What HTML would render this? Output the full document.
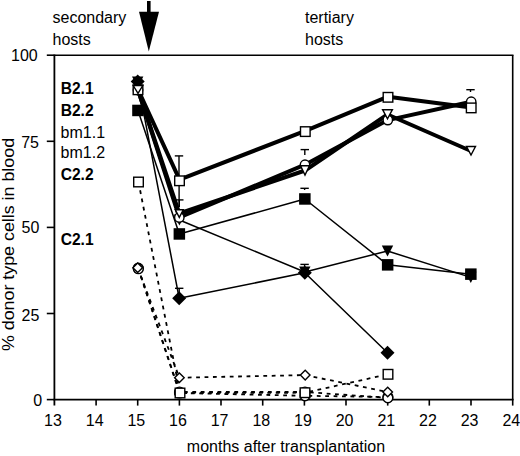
<!DOCTYPE html>
<html><head><meta charset="utf-8"><style>
html,body{margin:0;padding:0;background:#fff;}
body{width:520px;height:456px;overflow:hidden;}
svg{display:block;font-family:"Liberation Sans",sans-serif;}
</style></head><body>
<svg width="520" height="456" viewBox="0 0 520 456">
<rect width="520" height="456" fill="#fff"/>
<line x1="179.0" y1="155.9" x2="179.0" y2="175.0" stroke="#000" stroke-width="1.4"/><line x1="174.8" y1="155.9" x2="183.2" y2="155.9" stroke="#000" stroke-width="1.4"/>
<line x1="179.3" y1="199.9" x2="179.3" y2="207.0" stroke="#000" stroke-width="1.4"/><line x1="175.1" y1="199.9" x2="183.5" y2="199.9" stroke="#000" stroke-width="1.4"/>
<line x1="179.1" y1="185" x2="179.1" y2="207" stroke="#000" stroke-width="1.4"/>
<line x1="179.2" y1="288.3" x2="179.2" y2="292.0" stroke="#000" stroke-width="1.4"/><line x1="175.0" y1="288.3" x2="183.4" y2="288.3" stroke="#000" stroke-width="1.4"/>
<line x1="304.8" y1="149.6" x2="304.8" y2="155.0" stroke="#000" stroke-width="1.4"/><line x1="300.6" y1="149.6" x2="309.0" y2="149.6" stroke="#000" stroke-width="1.4"/>
<line x1="304.6" y1="188.3" x2="304.6" y2="190.0" stroke="#000" stroke-width="1.4"/><line x1="300.4" y1="188.3" x2="308.8" y2="188.3" stroke="#000" stroke-width="1.4"/>
<line x1="304.6" y1="264.4" x2="304.6" y2="268.0" stroke="#000" stroke-width="1.4"/><line x1="300.4" y1="264.4" x2="308.8" y2="264.4" stroke="#000" stroke-width="1.4"/>
<line x1="470.5" y1="89.7" x2="470.5" y2="92.0" stroke="#000" stroke-width="1.4"/><line x1="466.3" y1="89.7" x2="474.7" y2="89.7" stroke="#000" stroke-width="1.4"/>
<polyline points="138.2,268.2 179.5,393.0 305.0,395.8 387.9,397.0" fill="none" stroke="#000" stroke-width="1.8" stroke-linejoin="round" stroke-dasharray="3.8 4.6"/>
<polyline points="138.4,268.7 179.5,392.0 305.0,392.0 387.9,397.9" fill="none" stroke="#000" stroke-width="1.8" stroke-linejoin="round" stroke-dasharray="3.8 4.6"/>
<polyline points="137.7,267.7 179.4,377.7 305.2,375.1 387.7,392.0" fill="none" stroke="#000" stroke-width="1.8" stroke-linejoin="round" stroke-dasharray="3.8 4.6"/>
<polyline points="138.5,182.0 180.0,393.0 305.0,392.7 388.0,374.3" fill="none" stroke="#000" stroke-width="1.8" stroke-linejoin="round" stroke-dasharray="3.8 4.6"/>
<polyline points="137.7,82.0 179.4,220.0 304.8,272.0 387.5,251.0 470.8,277.4" fill="none" stroke="#000" stroke-width="1.5" stroke-linejoin="round"/>
<polyline points="137.7,81.6 179.2,298.3 304.8,272.8 387.5,352.8" fill="none" stroke="#000" stroke-width="1.5" stroke-linejoin="round"/>
<polyline points="138.0,110.4 179.3,234.0 304.8,199.0 387.6,264.8 470.8,274.2" fill="none" stroke="#000" stroke-width="1.5" stroke-linejoin="round"/>
<polyline points="138.0,90.0 179.3,217.5 305.0,164.7 387.8,120.1 471.2,101.7" fill="none" stroke="#000" stroke-width="4.0" stroke-linejoin="round"/>
<polyline points="138.0,89.5 179.5,179.6 305.3,130.9 388.0,96.7 471.2,107.5" fill="none" stroke="#000" stroke-width="4.0" stroke-linejoin="round"/>
<polyline points="138.0,90.0 179.3,213.5 305.0,170.5 387.5,114.5 471.0,151.0" fill="none" stroke="#000" stroke-width="4.0" stroke-linejoin="round"/>
<line x1="54.4" y1="55.3" x2="513.5" y2="55.3" stroke="#000" stroke-width="1.6"/>
<line x1="512.7" y1="55.3" x2="512.7" y2="400" stroke="#000" stroke-width="1.6"/>
<line x1="54.4" y1="54.5" x2="54.4" y2="405.6" stroke="#000" stroke-width="1.8"/>
<line x1="53.5" y1="399.6" x2="513.5" y2="399.6" stroke="#000" stroke-width="1.8"/>
<line x1="46.8" y1="399.6" x2="54.4" y2="399.6" stroke="#000" stroke-width="1.6"/>
<line x1="46.8" y1="313.5" x2="54.4" y2="313.5" stroke="#000" stroke-width="1.6"/>
<line x1="46.8" y1="227.4" x2="54.4" y2="227.4" stroke="#000" stroke-width="1.6"/>
<line x1="46.8" y1="141.3" x2="54.4" y2="141.3" stroke="#000" stroke-width="1.6"/>
<line x1="46.8" y1="55.2" x2="54.4" y2="55.2" stroke="#000" stroke-width="1.6"/>
<line x1="96.1" y1="399.6" x2="96.1" y2="405.6" stroke="#000" stroke-width="1.6"/>
<line x1="137.7" y1="399.6" x2="137.7" y2="405.6" stroke="#000" stroke-width="1.6"/>
<line x1="179.4" y1="399.6" x2="179.4" y2="405.6" stroke="#000" stroke-width="1.6"/>
<line x1="221.0" y1="399.6" x2="221.0" y2="405.6" stroke="#000" stroke-width="1.6"/>
<line x1="262.7" y1="399.6" x2="262.7" y2="405.6" stroke="#000" stroke-width="1.6"/>
<line x1="304.4" y1="399.6" x2="304.4" y2="405.6" stroke="#000" stroke-width="1.6"/>
<line x1="346.0" y1="399.6" x2="346.0" y2="405.6" stroke="#000" stroke-width="1.6"/>
<line x1="387.7" y1="399.6" x2="387.7" y2="405.6" stroke="#000" stroke-width="1.6"/>
<line x1="429.3" y1="399.6" x2="429.3" y2="405.6" stroke="#000" stroke-width="1.6"/>
<line x1="471.0" y1="399.6" x2="471.0" y2="405.6" stroke="#000" stroke-width="1.6"/>
<line x1="512.7" y1="399.6" x2="512.7" y2="405.6" stroke="#000" stroke-width="1.6"/>
<circle cx="138.2" cy="268.2" r="4.9" fill="#fff" stroke="#000" stroke-width="1.4"/>
<circle cx="179.5" cy="393.0" r="4.9" fill="#fff" stroke="#000" stroke-width="1.4"/>
<circle cx="305.0" cy="395.8" r="4.9" fill="#fff" stroke="#000" stroke-width="1.4"/>
<circle cx="387.9" cy="397.0" r="4.9" fill="#fff" stroke="#000" stroke-width="1.4"/>
<circle cx="138.4" cy="268.7" r="4.9" fill="#fff" stroke="#000" stroke-width="1.4"/>
<circle cx="179.5" cy="392.0" r="4.9" fill="#fff" stroke="#000" stroke-width="1.4"/>
<circle cx="305.0" cy="392.0" r="4.9" fill="#fff" stroke="#000" stroke-width="1.4"/>
<circle cx="387.9" cy="397.9" r="4.9" fill="#fff" stroke="#000" stroke-width="1.4"/>
<polygon points="137.7,262.9 142.5,267.7 137.7,272.5 132.9,267.7" fill="#fff" stroke="#000" stroke-width="1.4"/>
<polygon points="179.4,372.9 184.2,377.7 179.4,382.5 174.6,377.7" fill="#fff" stroke="#000" stroke-width="1.4"/>
<polygon points="305.2,370.3 310.0,375.1 305.2,379.9 300.4,375.1" fill="#fff" stroke="#000" stroke-width="1.4"/>
<polygon points="387.7,387.2 392.5,392.0 387.7,396.8 382.9,392.0" fill="#fff" stroke="#000" stroke-width="1.4"/>
<rect x="133.7" y="177.2" width="9.6" height="9.6" fill="#fff" stroke="#000" stroke-width="1.4"/>
<rect x="175.2" y="388.2" width="9.6" height="9.6" fill="#fff" stroke="#000" stroke-width="1.4"/>
<rect x="300.2" y="387.9" width="9.6" height="9.6" fill="#fff" stroke="#000" stroke-width="1.4"/>
<rect x="383.2" y="369.5" width="9.6" height="9.6" fill="#fff" stroke="#000" stroke-width="1.4"/>
<polygon points="132.0,76.4 143.4,76.4 137.7,87.6" fill="#000"/>
<polygon points="173.7,214.4 185.1,214.4 179.4,225.6" fill="#000"/>
<polygon points="299.1,266.4 310.5,266.4 304.8,277.6" fill="#000"/>
<polygon points="381.8,245.4 393.2,245.4 387.5,256.6" fill="#000"/>
<polygon points="465.1,271.8 476.5,271.8 470.8,283.0" fill="#000"/>
<polygon points="137.7,74.6 144.7,81.6 137.7,88.6 130.7,81.6" fill="#000"/>
<polygon points="179.2,291.3 186.2,298.3 179.2,305.3 172.2,298.3" fill="#000"/>
<polygon points="304.8,265.8 311.8,272.8 304.8,279.8 297.8,272.8" fill="#000"/>
<polygon points="387.5,345.8 394.5,352.8 387.5,359.8 380.5,352.8" fill="#000"/>
<rect x="132.2" y="104.7" width="11.5" height="11.5" fill="#000"/>
<rect x="173.6" y="228.2" width="11.5" height="11.5" fill="#000"/>
<rect x="299.1" y="193.2" width="11.5" height="11.5" fill="#000"/>
<rect x="381.9" y="259.1" width="11.5" height="11.5" fill="#000"/>
<rect x="465.1" y="268.4" width="11.5" height="11.5" fill="#000"/>
<circle cx="138.0" cy="90.0" r="4.7" fill="#fff" stroke="#000" stroke-width="1.4"/>
<circle cx="179.3" cy="217.5" r="4.7" fill="#fff" stroke="#000" stroke-width="1.4"/>
<circle cx="305.0" cy="164.7" r="4.7" fill="#fff" stroke="#000" stroke-width="1.4"/>
<circle cx="387.8" cy="120.1" r="4.7" fill="#fff" stroke="#000" stroke-width="1.4"/>
<circle cx="471.2" cy="101.7" r="4.7" fill="#fff" stroke="#000" stroke-width="1.4"/>
<rect x="133.2" y="85.0" width="9.6" height="9.6" fill="#fff" stroke="#000" stroke-width="1.4"/>
<rect x="174.7" y="176.0" width="9.6" height="9.6" fill="#fff" stroke="#000" stroke-width="1.4"/>
<rect x="300.5" y="126.8" width="9.6" height="9.6" fill="#fff" stroke="#000" stroke-width="1.4"/>
<rect x="383.2" y="92.5" width="9.6" height="9.6" fill="#fff" stroke="#000" stroke-width="1.4"/>
<rect x="466.4" y="103.1" width="9.6" height="9.6" fill="#fff" stroke="#000" stroke-width="1.4"/>
<polygon points="133.2,85.5 142.8,85.5 138.0,93.4" fill="#fff" stroke="#000" stroke-width="1.4" stroke-linejoin="miter"/>
<polygon points="175.3,209.7 183.3,209.7 179.3,217.4" fill="#fff" stroke="#000" stroke-width="1.4" stroke-linejoin="miter"/>
<polygon points="300.6,165.7 309.4,165.7 305.0,175.0" fill="#fff" stroke="#000" stroke-width="1.4" stroke-linejoin="miter"/>
<polygon points="382.6,109.7 392.4,109.7 387.5,118.8" fill="#fff" stroke="#000" stroke-width="1.4" stroke-linejoin="miter"/>
<polygon points="466.5,146.5 475.5,146.5 471.0,155.1" fill="#fff" stroke="#000" stroke-width="1.4" stroke-linejoin="miter"/>
<rect x="147" y="1" width="3.6" height="12" fill="#000"/>
<polygon points="139,11.8 159,11.8 148.8,51.5" fill="#000"/>
<g fill="#000">
<text x="52.5" y="23.0" font-size="16" font-weight="normal" text-anchor="start">secondary</text>
<text x="52.5" y="44.7" font-size="16" font-weight="normal" text-anchor="start">hosts</text>
<text x="305.0" y="23.0" font-size="16" font-weight="normal" text-anchor="start">tertiary</text>
<text x="305.0" y="44.6" font-size="16" font-weight="normal" text-anchor="start">hosts</text>
<text x="60.7" y="94.2" font-size="15.6" font-weight="bold" text-anchor="start">B2.1</text>
<text x="60.7" y="115.7" font-size="15.6" font-weight="bold" text-anchor="start">B2.2</text>
<text x="60.6" y="137.6" font-size="16" font-weight="normal" text-anchor="start">bm1.1</text>
<text x="60.6" y="158.1" font-size="16" font-weight="normal" text-anchor="start">bm1.2</text>
<text x="60.7" y="179.9" font-size="15.6" font-weight="bold" text-anchor="start">C2.2</text>
<text x="60.7" y="244.7" font-size="15.6" font-weight="bold" text-anchor="start">C2.1</text>
<text x="42.1" y="405.8" font-size="16" font-weight="normal" text-anchor="end">0</text>
<text x="39.3" y="320.6" font-size="16" font-weight="normal" text-anchor="end">25</text>
<text x="39.3" y="233.0" font-size="16" font-weight="normal" text-anchor="end">50</text>
<text x="39.0" y="147.5" font-size="16" font-weight="normal" text-anchor="end">75</text>
<text x="37.7" y="60.6" font-size="16" font-weight="normal" text-anchor="end">100</text>
<text x="53.0" y="426.0" font-size="16" font-weight="normal" text-anchor="middle">13</text>
<text x="94.7" y="426.0" font-size="16" font-weight="normal" text-anchor="middle">14</text>
<text x="136.3" y="426.0" font-size="16" font-weight="normal" text-anchor="middle">15</text>
<text x="178.0" y="426.0" font-size="16" font-weight="normal" text-anchor="middle">16</text>
<text x="219.6" y="426.0" font-size="16" font-weight="normal" text-anchor="middle">17</text>
<text x="261.3" y="426.0" font-size="16" font-weight="normal" text-anchor="middle">18</text>
<text x="303.0" y="426.0" font-size="16" font-weight="normal" text-anchor="middle">19</text>
<text x="344.6" y="426.0" font-size="16" font-weight="normal" text-anchor="middle">20</text>
<text x="386.3" y="426.0" font-size="16" font-weight="normal" text-anchor="middle">21</text>
<text x="427.9" y="426.0" font-size="16" font-weight="normal" text-anchor="middle">22</text>
<text x="469.6" y="426.0" font-size="16" font-weight="normal" text-anchor="middle">23</text>
<text x="511.3" y="426.0" font-size="16" font-weight="normal" text-anchor="middle">24</text>
<text x="286" y="451.7" font-size="16" font-weight="normal" text-anchor="middle">months after transplantation</text>
<text x="0" y="0" font-size="16" text-anchor="middle" transform="translate(13.6,244.5) rotate(-90) scale(1.116,1)">% donor type cells in blood</text>
</g>
</svg>
</body></html>
